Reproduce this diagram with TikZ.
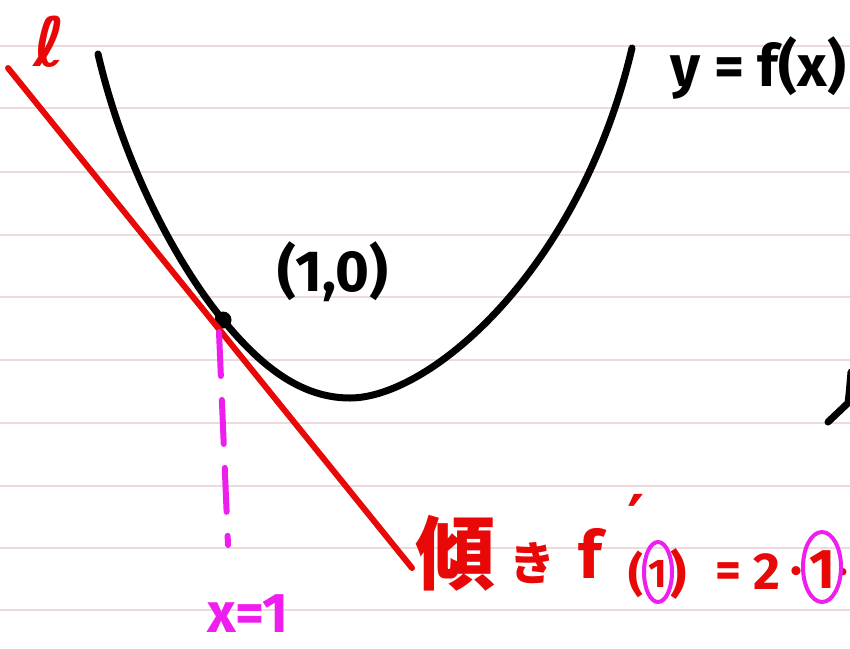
\documentclass[tikz,border=0pt]{standalone}
\usepackage{fontspec}
\setmainfont{Fira Sans}
\newfontfamily\jpfont{Noto Sans CJK JP}
\newfontfamily\symfont{DejaVu Sans}
\definecolor{ruleline}{RGB}{236,218,222}
\definecolor{penred}{RGB}{232,8,8}
\definecolor{penmag}{RGB}{238,30,238}
\tikzset{
  rulestroke/.style={ruleline, line width=1.4pt},
  curvestroke/.style={black, line width=7pt, line cap=round, line join=round},
  tangentstroke/.style={penred, line width=6pt, line cap=round},
  dashstroke/.style={penmag, line width=6pt, line cap=round, dash pattern=on 44pt off 24pt},
  redtxt/.style={penred, inner sep=0pt, font=\bfseries},
  magtxt/.style={penmag, inner sep=0pt, font=\bfseries},
  blacktxt/.style={black, inner sep=0pt, font=\bfseries},
  ringstroke/.style={penmag, line width=4pt}
}
\begin{document}
\begin{tikzpicture}[x=1pt,y=-1pt]
\useasboundingbox (0,0) rectangle (850,648);
\clip (0,0) rectangle (850,648);
\fill[white] (0,0) rectangle (850,648);
% ruled lines
\foreach \yy in {46,108,172,235,297,360,423,486,548,610}{
  \draw[rulestroke] (0,\yy) -- (850,\yy);
}
% parabola
\coordinate (Ctop) at (98,54);
\coordinate (P) at (223,320);
\coordinate (M) at (350,398);
\coordinate (Cend) at (632,48);
\draw[curvestroke] (Ctop) .. controls (125,170) and (180,268) .. (P)
  .. controls (260,365) and (300,398) .. (M)
  .. controls (430,398) and (580,270) .. (Cend);
% tangent point
\fill[black] (P) circle (8.5);
% tangent line
\coordinate (Ltop) at (8,68);
\coordinate (Lbot) at (412,568);
\draw[tangentstroke] (Ltop) -- (Lbot);
% dashed vertical
\coordinate (Dtop) at (219,332);
\coordinate (Dbot) at (228,545);
\draw[dashstroke] (Dtop) -- (Dbot);
% right edge stroke
\coordinate (R1) at (828,422);
\coordinate (R2) at (848,403);
\coordinate (R3) at (851,372);
\draw[curvestroke] (R1) -- (R2) .. controls (849,395) .. (R3);
% labels
\node[redtxt] (ell) at (50,42) {\symfont\fontsize{68}{68}\selectfont ℓ};
\node[blacktxt, anchor=west] (yfx) at (670,68) {\fontsize{58}{58}\selectfont y = f(x)};
\node[blacktxt] (pt) at (333,272) {\fontsize{58}{58}\selectfont (1,0)};
\node[magtxt] (x1) at (248,614) {\fontsize{56}{56}\selectfont x=1};
% slope text
\node[redtxt] (k1) at (455,553) {\jpfont\fontsize{80}{80}\selectfont 傾};
\node[redtxt] (k2) at (532,563) {\jpfont\fontsize{46}{46}\selectfont き};
\node[redtxt] (ff) at (590,553) {\fontsize{66}{66}\selectfont f};
\node[redtxt] (pr) at (636,518) {\symfont\fontsize{66}{66}\selectfont ′};
\node[redtxt] (lp) at (636,574) {\fontsize{46}{46}\selectfont (};
\node[redtxt] (one1) at (658,574) {\fontsize{40}{40}\selectfont 1};
\node[redtxt] (rp) at (679,574) {\fontsize{50}{50}\selectfont )};
\node[redtxt] (eq) at (728,575) {\fontsize{50}{50}\selectfont =};
\node[redtxt] (two) at (767,572) {\fontsize{52}{52}\selectfont 2};
\node[redtxt] (d1) at (796,577) {\fontsize{50}{50}\selectfont ·};
\node[redtxt] (one2) at (822,570) {\fontsize{56}{56}\selectfont 1};
\node[redtxt] (d2) at (843,577) {\fontsize{40}{40}\selectfont ·};
\draw[ringstroke] (658,572) ellipse (14 and 30);
\draw[ringstroke] (822,567) ellipse (19 and 35);
\end{tikzpicture}
\end{document}
